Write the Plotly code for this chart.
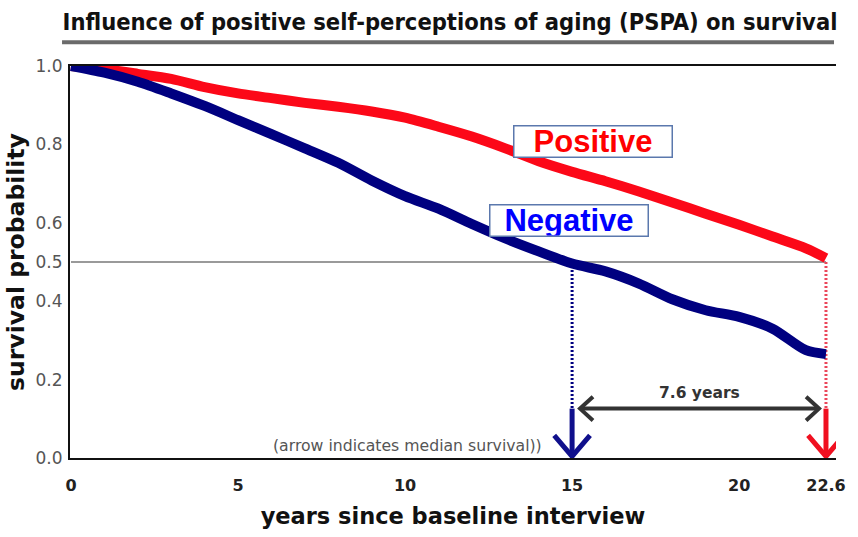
import plotly.graph_objects as go

# ---------------- data ----------------
years = [0, 1, 2, 3, 4, 5, 6, 7, 8, 9, 10, 11, 12, 13, 14, 15, 16, 17, 18, 19, 20, 21, 22, 22.6]
positive = [1.0, 0.992, 0.98, 0.967, 0.946, 0.93, 0.918, 0.906, 0.896, 0.884, 0.868, 0.845,
            0.82, 0.79, 0.757, 0.73, 0.706, 0.68, 0.652, 0.623, 0.595, 0.565, 0.535, 0.51]
negative = [1.0, 0.983, 0.96, 0.93, 0.898, 0.862, 0.826, 0.79, 0.753, 0.708, 0.668, 0.636,
            0.597, 0.56, 0.527, 0.496, 0.476, 0.445, 0.405, 0.377, 0.36, 0.33, 0.275, 0.265]
median_neg = 15
median_pos = 22.6
median_level = 0.5
gap_label = "7.6 years"
x_tickvals = [0, 5, 10, 15, 20, 22.6]
x_ticktext = ["0", "5", "10", "15", "20", "22.6"]
y_tickvals = [0, 0.2, 0.4, 0.5, 0.6, 0.8, 1.0]
y_ticktext = ["0.0", "0.2", "0.4", "0.5", "0.6", "0.8", "1.0"]

# ---------------- layout geometry ----------------
W, H = 858, 537
ML, MR, MT, MB = 70, 18, 66, 73
XR = [-0.03, 22.9]
YR = [0, 1.0]
px_x = (W - ML - MR) / (XR[1] - XR[0])
px_y = (H - MT - MB) / (YR[1] - YR[0])

RED = "rgb(252,8,24)"
NAVY = "rgb(0,0,128)"
GAP_Y = 0.126

fig = go.Figure()

# 0.5 reference line
fig.add_trace(go.Scatter(x=[0, median_pos], y=[median_level, median_level], mode="lines",
                         line=dict(color="#9a9a9a", width=2), hoverinfo="skip", showlegend=False))

# dotted drop lines
fig.add_trace(go.Scatter(x=[median_neg, median_neg], y=[median_level, GAP_Y], mode="lines",
                         line=dict(color=NAVY, width=3, dash="2px,2px"), showlegend=False))
fig.add_trace(go.Scatter(x=[median_pos, median_pos], y=[median_level, GAP_Y], mode="lines",
                         line=dict(color="rgb(235,70,90)", width=3, dash="2px,2px"), showlegend=False))

# survival curves
fig.add_trace(go.Scatter(x=years, y=positive, mode="lines", name="Positive",
                         line=dict(color=RED, width=10, shape="spline", smoothing=0.8), showlegend=False))
fig.add_trace(go.Scatter(x=years, y=negative, mode="lines", name="Negative",
                         line=dict(color=NAVY, width=10, shape="spline", smoothing=0.8), showlegend=False))

# down arrows (median survival)
ax = 18 / px_x
ah = 23 / px_y
for xm, col in [(median_neg, "rgb(16,16,140)"), (median_pos, "rgb(240,16,32)")]:
    fig.add_trace(go.Scatter(x=[xm, xm], y=[GAP_Y, 0.004], mode="lines",
                             line=dict(color=col, width=5), showlegend=False))
    fig.add_trace(go.Scatter(x=[xm - ax, xm, xm + ax], y=[ah, 0.004, ah], mode="lines",
                             line=dict(color=col, width=5), showlegend=False))

# double-headed gap arrow
xl = median_neg + 8 / px_x
xr = median_pos - 7 / px_x
hx = 13 / px_x
hy = 12 / px_y
GRAY = "#333333"
fig.add_trace(go.Scatter(x=[xl, xr], y=[GAP_Y, GAP_Y], mode="lines",
                         line=dict(color=GRAY, width=4), showlegend=False))
fig.add_trace(go.Scatter(x=[xl + hx, xl, xl + hx], y=[GAP_Y + hy, GAP_Y, GAP_Y - hy], mode="lines",
                         line=dict(color=GRAY, width=4), showlegend=False))
fig.add_trace(go.Scatter(x=[xr - hx, xr, xr - hx], y=[GAP_Y + hy, GAP_Y, GAP_Y - hy], mode="lines",
                         line=dict(color=GRAY, width=4), showlegend=False))

annotations = [
    dict(x=(median_neg + median_pos) / 2, y=GAP_Y + 0.04, xref="x", yref="y", text=gap_label,
         showarrow=False, font=dict(family="DejaVu Sans", size=15.5, color=GRAY, weight="bold")),
    dict(x=10.07, y=0.033, xref="x", yref="y", text="(arrow indicates median survival))",
         showarrow=False, font=dict(family="DejaVu Sans", size=15.7, color="#555555")),
    dict(x=15.63, y=0.808, xref="x", yref="y", text="Positive", showarrow=False,
         font=dict(family="Liberation Sans", size=31, color="#ff0000", weight="bold"),
         bgcolor="white", bordercolor="#5b78ad", borderwidth=1.5, borderpad=0,
         width=157, height=30),
    dict(x=14.91, y=0.606, xref="x", yref="y", text="Negative", showarrow=False,
         font=dict(family="Liberation Sans", size=31, color="#0000ff", weight="bold"),
         bgcolor="white", bordercolor="#5b78ad", borderwidth=1.5, borderpad=0,
         width=157, height=30),
]

fig.update_layout(
    width=W, height=H,
    margin=dict(l=ML, r=MR, t=MT, b=MB),
    paper_bgcolor="white", plot_bgcolor="white",
    title=dict(text="Influence of positive self-perceptions of aging (PSPA) on survival",
               x=450 / W, xref="container", xanchor="center",
               y=1 - 22 / H, yref="container", yanchor="middle",
               font=dict(family="DejaVu Sans Condensed", size=23.5, color="#111111", weight="bold")),
    annotations=annotations,
    shapes=[dict(type="line", xref="paper", yref="paper",
                 x0=(62 - ML) / (W - ML - MR), x1=(838 - ML) / (W - ML - MR),
                 y0=1 + (MT - 42) / (H - MT - MB), y1=1 + (MT - 42) / (H - MT - MB),
                 line=dict(color="#6b6b6b", width=4))],
    showlegend=False,
)

fig.update_xaxes(range=XR, showgrid=False, zeroline=False,
                 showline=True, linecolor="#111111", linewidth=2, mirror=True,
                 tickvals=x_tickvals, ticktext=x_ticktext, ticks="", ticklabelstandoff=12,
                 tickfont=dict(family="DejaVu Sans", size=16, color="#222222", weight="bold"),
                 title=dict(text="years since baseline interview", standoff=14,
                            font=dict(family="DejaVu Sans", size=22.5, color="#111111", weight="bold")))
fig.update_yaxes(range=YR, showgrid=False, zeroline=False,
                 showline=True, linecolor="#111111", linewidth=2,
                 tickvals=y_tickvals, ticktext=y_ticktext, ticks="", ticklabelstandoff=2,
                 tickfont=dict(family="DejaVu Sans", size=17, color="#555555"),
                 title=dict(text="survival probability", standoff=4,
                            font=dict(family="DejaVu Sans", size=23.5, color="#111111", weight="bold")))

fig.write_html("out.html", config={"displayModeBar": False},
               post_script="document.body.style.margin='0';document.body.style.overflow='hidden';")
